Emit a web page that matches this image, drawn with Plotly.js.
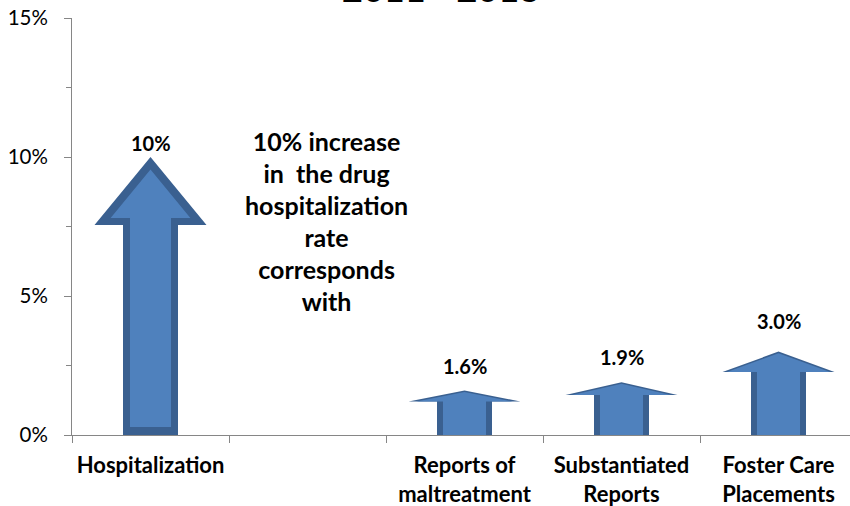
<!DOCTYPE html>
<html>
<head>
<meta charset="utf-8">
<script src="https://cdn.plot.ly/plotly-3.0.1.min.js"></script>
<style>
  html, body { margin: 0; padding: 0; background: #ffffff; }
  #chart { width: 850px; height: 506px; }
</style>
</head>
<body>
<div id="chart"></div>
<script>
// ---- data ----
const categories = ['Hospitalization', '', 'Reports of maltreatment', 'Substantiated Reports', 'Foster Care Placements'];
const labelLine1 = ['Hospitalization', '', 'Reports of', 'Substantiated', 'Foster Care'];
const labelLine2 = ['', '', 'maltreatment', 'Reports', 'Placements'];
const arrowSlots = [0, 2, 3, 4];              // category index of each arrow
const changePct = [10, 1.6, 1.9, 3.0];        // percent increase
const changeLabels = ['10%', '1.6%', '1.9%', '3.0%'];
const yTickVals = [0, 5, 10, 15];
const yTickLabels = ['0%', '5%', '10%', '15%'];
const noteLines = ['10% increase', 'in\u00a0 the drug', 'hospitalization', 'rate', 'corresponds', 'with'];
const titleText = '2011 - 2013';

// ---- look ----
const W = 850, H = 506;
const margin = { l: 72, r: 0, t: 18, b: 71 };
const slotPx = 157;                                   // width of one category
const plotW = W - margin.l - margin.r;
const plotH = H - margin.t - margin.b;
const xRange = [-0.5, -0.5 + plotW / slotPx];
const yRange = [0, 15];
const pxPerX = plotW / (xRange[1] - xRange[0]);
const pxPerY = plotH / (yRange[1] - yRange[0]);

const FONT = 'Lato, "Open Sans", sans-serif';
const AXIS_GRAY = '#868686';
const EDGE_BLUE = '#3a6090';
const FILL_BLUE = '#4f81bd';

const shaftHalf = 27.5;      // px
const headHalf = 56;         // px
const headShare = 0.245;     // head height as share of arrow height
// inner-panel insets in px: [bottom, side, wing underside, slant]
const insetBig = [8, 7, 7, 8];
const insetSmall = [0, 6, 0, 1.5];
const labelLift = [0, 11, 11, 17];

// Up-arrow outline in px, counter-clockwise, origin at bottom centre
function arrowPx(heightPx) {
  const hb = heightPx * (1 - headShare);
  return [
    [-shaftHalf, 0], [shaftHalf, 0], [shaftHalf, hb], [headHalf, hb],
    [0, heightPx], [-headHalf, hb], [-shaftHalf, hb]
  ];
}

// Shift each edge inward by its own inset and rebuild the corners
function insetPolygon(pts, ins) {
  const n = pts.length;
  const lines = [];
  for (let i = 0; i < n; i++) {
    const a = pts[i], b = pts[(i + 1) % n];
    const dx = b[0] - a[0], dy = b[1] - a[1];
    const len = Math.hypot(dx, dy);
    const nx = -dy / len, ny = dx / len;
    lines.push({ p: [a[0] + nx * ins[i], a[1] + ny * ins[i]], u: [dx / len, dy / len] });
  }
  const out = [];
  for (let i = 0; i < n; i++) {
    const L1 = lines[(i - 1 + n) % n], L2 = lines[i];
    const det = L1.u[0] * (-L2.u[1]) - L1.u[1] * (-L2.u[0]);
    const rx = L2.p[0] - L1.p[0], ry = L2.p[1] - L1.p[1];
    const t = (rx * (-L2.u[1]) - ry * (-L2.u[0])) / det;
    out.push([L1.p[0] + L1.u[0] * t, L1.p[1] + L1.u[1] * t]);
  }
  return out;
}

function toData(pts, slot) {
  const xs = pts.map(p => slot + p[0] / pxPerX);
  const ys = pts.map(p => p[1] / pxPerY);
  xs.push(xs[0]); ys.push(ys[0]);
  return { x: xs, y: ys };
}

const traces = [];
changePct.forEach((v, i) => {
  const outer = arrowPx(v * pxPerY);
  const e = v >= 5 ? insetBig : insetSmall;
  const inner = insetPolygon(outer, [e[0], e[1], e[2], e[3], e[3], e[2], e[1]]);
  const o = toData(outer, arrowSlots[i]);
  const n = toData(inner, arrowSlots[i]);
  traces.push({ type: 'scatter', mode: 'lines', x: o.x, y: o.y, fill: 'toself',
    fillcolor: EDGE_BLUE, line: { width: 0 }, hoverinfo: 'skip', showlegend: false });
  traces.push({ type: 'scatter', mode: 'lines', x: n.x, y: n.y, fill: 'toself',
    fillcolor: FILL_BLUE, line: { width: 0 }, hoverinfo: 'skip', showlegend: false });
});

const tickText = labelLine1.map((l1, i) => {
  const s = '<span style="font-size:22px"><b>' + l1 + '</b></span>';
  return labelLine2[i] ? s + '<br><span style="font-size:22px"><b>' + labelLine2[i] + '</b></span>' : s;
});

const annotations = changePct.map((v, i) => ({
  x: arrowSlots[i], y: v, xref: 'x', yref: 'y', text: '<b>' + changeLabels[i] + '</b>',
  showarrow: false, yanchor: 'bottom', yshift: labelLift[i],
  font: { family: FONT, size: 20, color: '#000' }
}));

annotations.push({
  x: 1.12, y: 7.69, xref: 'x', yref: 'y', showarrow: false, align: 'center',
  yanchor: 'middle',
  text: noteLines.map(t => '<span style="font-size:25px"><b>' + t + '</b></span>').join('<br>'),
  font: { family: FONT, size: 24.6, color: '#000' }
});

annotations.push({
  x: 0.474, y: 1.0155, xref: 'paper', yref: 'paper', showarrow: false,
  yanchor: 'bottom', text: '<b>' + titleText + '</b>',
  font: { family: FONT, size: 36, color: '#000' }
});

const layout = {
  width: W, height: H, margin: margin,
  paper_bgcolor: '#ffffff', plot_bgcolor: '#ffffff',
  showlegend: false,
  xaxis: {
    range: xRange, showgrid: false, zeroline: false,
    showline: true, linecolor: AXIS_GRAY, linewidth: 1,
    tickmode: 'array', tickvals: categories.map((c, i) => i), ticktext: tickText,
    ticks: '', ticklabelstandoff: 10,
    tickfont: { family: FONT, size: 22.3, color: '#000' },
    minor: { tickmode: 'array', tickvals: [-0.5, 0.5, 1.5, 2.5, 3.5],
             ticks: 'outside', ticklen: 7, tickcolor: AXIS_GRAY, showgrid: false },
    fixedrange: true
  },
  yaxis: {
    range: yRange, showgrid: false, zeroline: false,
    showline: true, linecolor: AXIS_GRAY, linewidth: 1,
    tickmode: 'array', tickvals: yTickVals, ticktext: yTickLabels,
    ticks: 'outside', ticklen: 7, tickcolor: AXIS_GRAY, ticklabelstandoff: 12,
    tickfont: { family: FONT, size: 20.5, color: '#000' },
    minor: { dtick: 2.5, tick0: 0, ticks: 'outside', ticklen: 5, tickcolor: AXIS_GRAY, showgrid: false },
    fixedrange: true
  },
  annotations: annotations
};

Plotly.newPlot('chart', traces, layout, { staticPlot: true, displayModeBar: false });
</script>
</body>
</html>
